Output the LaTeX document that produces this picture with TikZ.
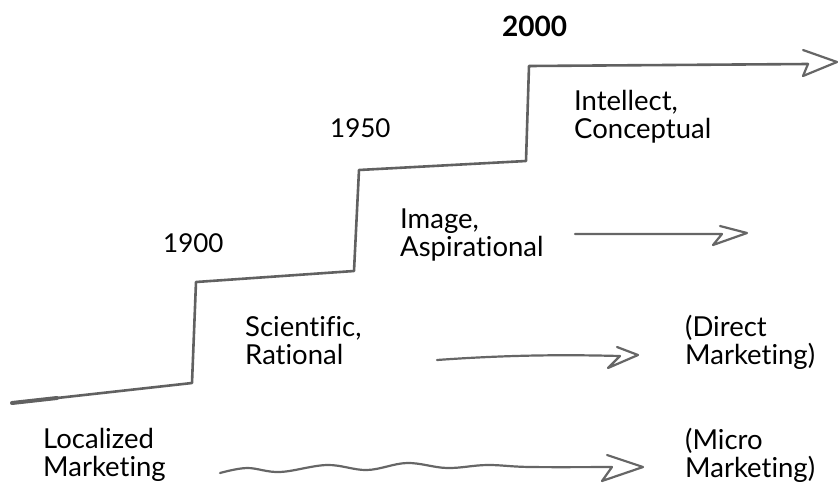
\documentclass[tikz,border=0pt]{standalone}
\usepackage{fontspec}
\usetikzlibrary{calc}
\setmainfont{Lato}[Ligatures={NoCommon,NoContextual}]
\begin{document}
\begin{tikzpicture}[x=1pt,y=-1pt,
  pen/.style={draw=black!62,line width=2.6pt,line cap=round,line join=round},
  thinpen/.style={draw=black!60,line width=2.2pt,line cap=round,line join=round},
  % multi-line labels are placed by the baseline of their last line
  label/.style={anchor=base west,inner sep=0pt,align=left,
    font=\fontsize{27.5}{28}\selectfont,text=black},
  year/.style={anchor=base west,inner sep=0pt,font=\fontsize{26}{28}\selectfont},
]
\useasboundingbox (0,0) rectangle (838,491);

% staircase corners
\coordinate (s0) at (12,403);
\coordinate (s1) at (192,383);
\coordinate (s2) at (196,282);
\coordinate (s3) at (354,271);
\coordinate (s4) at (359,170);
\coordinate (s5) at (526,161);
\coordinate (s6) at (529,66);

% era years
\node[year] (y1900) at (163,252) {1900};
\node[year] (y1950) at (330,137) {1950};
\node[year,font=\fontsize{28}{28}\selectfont\bfseries] (y2000) at (502,36) {2000};

% era descriptions
\node[label] (local) at (43,476) {Localized\\Marketing};
\node[label] (sci) at (245,364) {Scientific,\\Rational};
\node[label] (img) at (400,256) {Image,\\Aspirational};
\node[label] (intel) at (574,138) {Intellect,\\Conceptual};
\node[label] (direct) at (685,364) {(Direct\\Marketing)};
\node[label] (micro) at (685,477) {(Micro\\Marketing)};

% the staircase of eras
\draw[pen,line width=4pt] (s0) -- ($(s0)!0.25!(s1)$);
\draw[pen] (s0) -- (s1) -- (s2) -- (s3) -- (s4) -- (s5) -- (s6) -- (808,64);
\draw[thinpen] (808,64) -- (803,76) -- (837,62) -- (803,50);

% Image -> onward
\coordinate (a1) at (575,234);
\draw[thinpen] (a1) -- (722,234) -- (713,245) -- (747,233) -- (720,226);

% Scientific -> Direct Marketing
\coordinate (a2) at (437,360);
\draw[thinpen] (a2) .. controls (520,354) and (580,355) .. (620,356)
  -- (608,368) -- (638,355) -- (617,347);

% Localized -> Micro Marketing (wavy)
\coordinate (a3) at (220,473);
\draw[thinpen] plot[smooth,tension=0.6] coordinates {(a3) (247,468) (280,472) (327,465) (367,470) (407,463) (447,468) (487,465) (530,467) (612,467)}
  -- (602,481) -- (643,467) -- (607,455);
\end{tikzpicture}
\end{document}
